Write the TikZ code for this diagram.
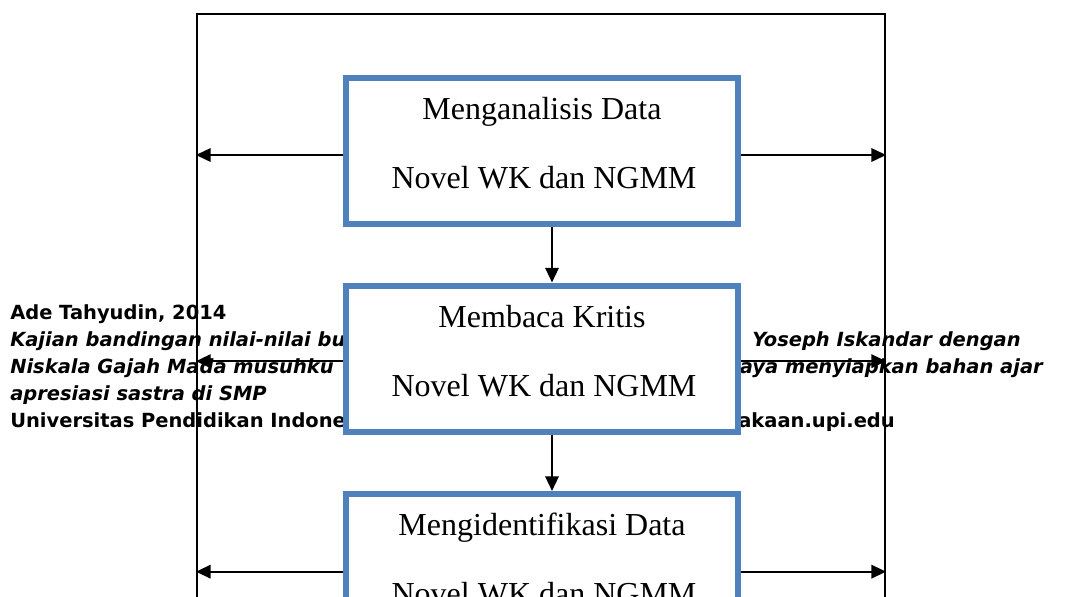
\documentclass[tikz,border=0pt]{standalone}
\usepackage{fontspec}
\setmainfont{Liberation Serif}
\newfontfamily\footfont{DejaVu Sans}
\usetikzlibrary{arrows.meta}
\definecolor{boxblue}{RGB}{79,129,189}
\begin{document}
\begin{tikzpicture}[x=0.75pt,y=-0.75pt,
  stepbox/.style={draw=boxblue, line width=4.5pt, fill=white, minimum width=294pt, minimum height=109.5pt, inner sep=0pt},
  boxtxt/.style={font=\fontsize{24}{28}\selectfont, anchor=base, inner sep=0pt},
  foot/.style={font=\footfont\bfseries\fontsize{14.6}{18}\selectfont, inner sep=0pt, anchor=base west},
  footi/.style={foot, font=\footfont\bfseries\itshape\fontsize{14.6}{18}\selectfont},
  conn/.style={line width=1.7pt, -{Triangle[length=11pt,width=10pt]}},
  frame/.style={draw, line width=1.6pt, minimum width=516pt, minimum height=559.5pt, inner sep=0pt}]
\useasboundingbox (0,0) rectangle (1073,596);
\clip (0,0) rectangle (1073,596);
% footer text behind the diagram
\node[foot] (f1) at (10,319) {Ade Tahyudin, 2014};
\node[footi] (f2) at (10,346) {Kajian bandingan nilai-nilai budaya};
\node[footi, anchor=base east] (f2r) at (1021,346) {Yoseph Iskandar dengan};
\node[footi] (f3) at (10,373) {Niskala Gajah Mada musuhku};
\node[footi, anchor=base east] (f3r) at (1043,373) {upaya menyiapkan bahan ajar};
\node[footi] (f4) at (10,400) {apresiasi sastra di SMP};
\node[foot] (f5) at (10,427) {Universitas Pendidikan Indonesia};
\node[foot, anchor=base east] (f5r) at (895,427) {repository.perpustakaan.upi.edu};
% frame
\node[frame] (fr) at (541,387) {};
% boxes
\node[stepbox] (b1) at (542,151) {};
\node[stepbox] (b2) at (542,358.5) {};
\node[stepbox] (b3) at (542,567) {};
% connectors
\draw[conn] ([yshift=-3pt]b1.west) -- ([yshift=-3pt]b1.west -| fr.west);
\draw[conn] ([yshift=-3pt]b1.east) -- ([yshift=-3pt]b1.east -| fr.east);
\draw[conn] ([yshift=-2pt]b2.west) -- ([yshift=-2pt]b2.west -| fr.west);
\draw[conn] ([yshift=-2pt]b2.east) -- ([yshift=-2pt]b2.east -| fr.east);
\draw[conn] ([yshift=-3.5pt]b3.west) -- ([yshift=-3.5pt]b3.west -| fr.west);
\draw[conn] ([yshift=-3.5pt]b3.east) -- ([yshift=-3.5pt]b3.east -| fr.east);
\draw[conn] ([xshift=7.5pt]b1.south) -- ([xshift=7.5pt]b2.north);
\draw[conn] ([xshift=7.5pt]b2.south) -- ([xshift=7.5pt]b3.north);
% box texts
\node[boxtxt] (t1a) at (542,119) {Menganalisis Data};
\node[boxtxt] (t1b) at (544,188) {Novel WK dan NGMM};
\node[boxtxt] (t2a) at (542,327) {Membaca Kritis};
\node[boxtxt] (t2b) at (544,396) {Novel WK dan NGMM};
\node[boxtxt] (t3a) at (542,535) {Mengidentifikasi Data};
\node[boxtxt] (t3b) at (544,604) {Novel WK dan NGMM};
\end{tikzpicture}
\end{document}
